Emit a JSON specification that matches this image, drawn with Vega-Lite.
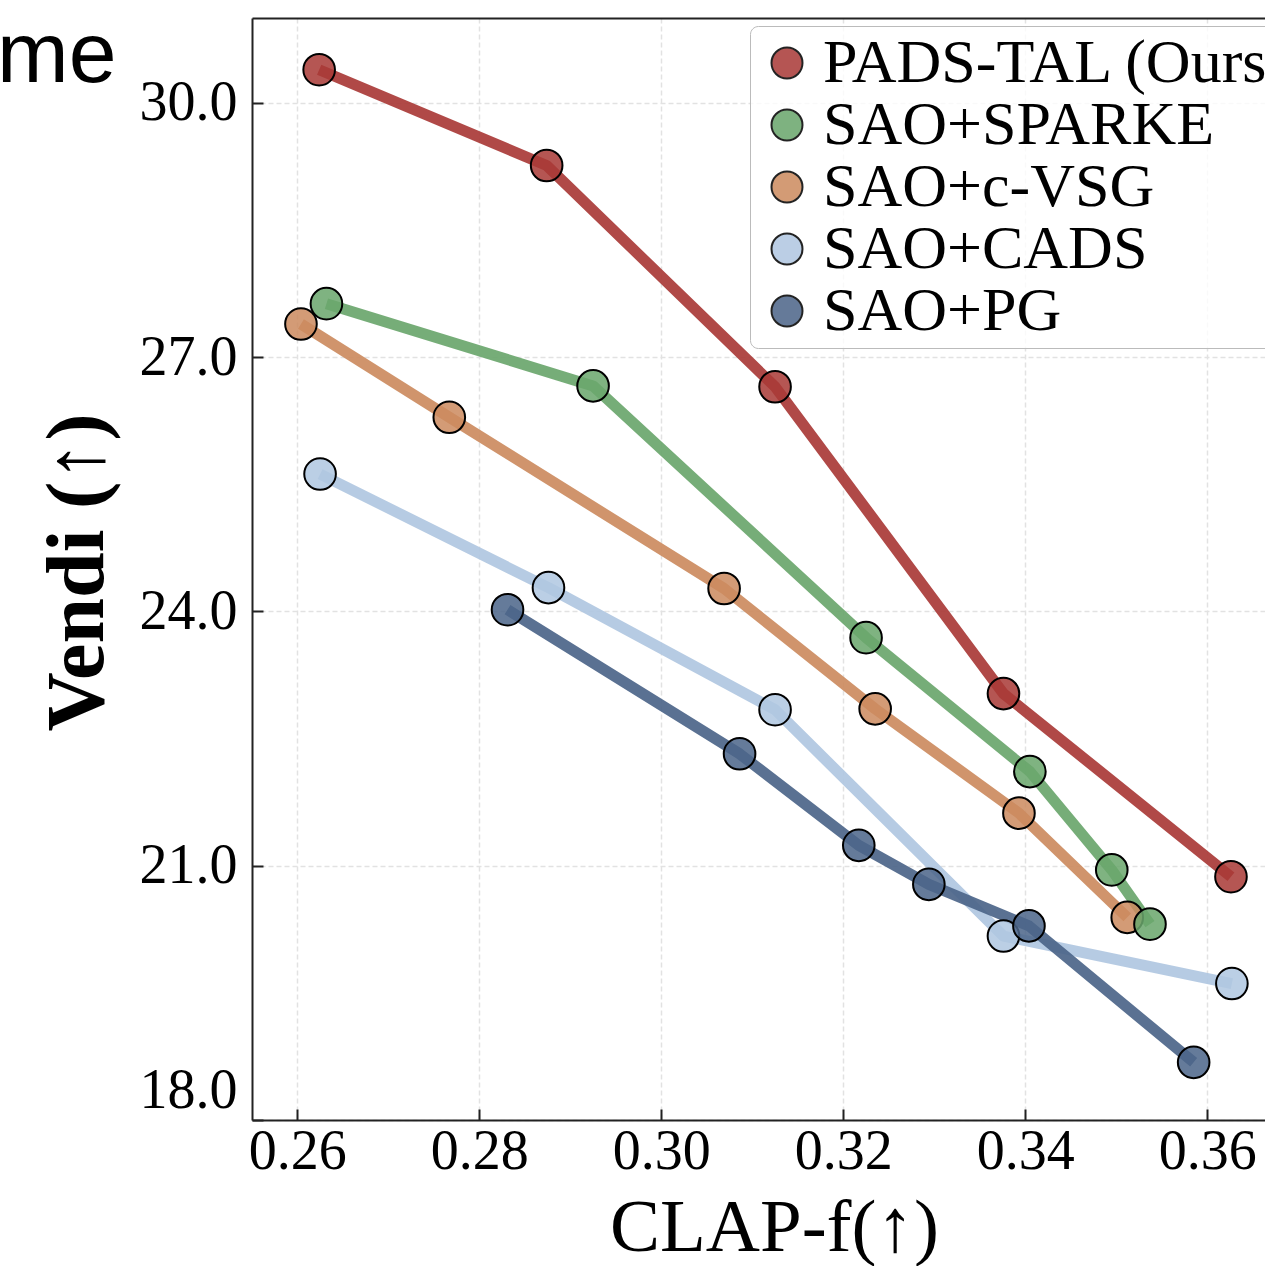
{
  "$schema": "https://vega.github.io/schema/vega-lite/v6.json",
  "autosize": {"type": "none"},
  "padding": {"left": 252, "top": 18, "right": 0, "bottom": 146},
  "width": 1013,
  "height": 1102,
  "background": "white",
  "title": {
    "text": "me",
    "font": "Liberation Sans",
    "fontSize": 86,
    "fontWeight": "normal",
    "color": "black",
    "anchor": "start",
    "frame": "group",
    "orient": "top",
    "baseline": "alphabetic",
    "offset": 0,
    "dx": -255,
    "dy": 150
  },
  "config": {
    "view": {"stroke": null},
    "axis": {
      "labelFont": "Liberation Serif",
      "labelFontSize": 56,
      "labelColor": "black",
      "titleFont": "Liberation Serif",
      "titleColor": "black",
      "domainColor": "#222222",
      "domainWidth": 2,
      "tickColor": "#222222",
      "tickWidth": 2,
      "tickSize": -11,
      "gridColor": "#e2e2e2",
      "gridDash": [5, 3],
      "gridWidth": 1.5
    }
  },
  "datasets": {
    "runs": [
      {"method": "SAO+CADS", "clap": 0.2625, "vendi": 25.62},
      {"method": "SAO+CADS", "clap": 0.2876, "vendi": 24.28},
      {"method": "SAO+CADS", "clap": 0.3125, "vendi": 22.84},
      {"method": "SAO+CADS", "clap": 0.3376, "vendi": 20.17},
      {"method": "SAO+CADS", "clap": 0.3627, "vendi": 19.61},
      {"method": "SAO+PG", "clap": 0.2831, "vendi": 24.02},
      {"method": "SAO+PG", "clap": 0.3086, "vendi": 22.32},
      {"method": "SAO+PG", "clap": 0.3217, "vendi": 21.24},
      {"method": "SAO+PG", "clap": 0.3294, "vendi": 20.78},
      {"method": "SAO+PG", "clap": 0.3404, "vendi": 20.29},
      {"method": "SAO+PG", "clap": 0.3585, "vendi": 18.68},
      {"method": "PADS-TAL (Ours)", "clap": 0.2624, "vendi": 30.39},
      {"method": "PADS-TAL (Ours)", "clap": 0.2874, "vendi": 29.26},
      {"method": "PADS-TAL (Ours)", "clap": 0.3125, "vendi": 26.65},
      {"method": "PADS-TAL (Ours)", "clap": 0.3376, "vendi": 23.03},
      {"method": "PADS-TAL (Ours)", "clap": 0.3626, "vendi": 20.87},
      {"method": "SAO+SPARKE", "clap": 0.2632, "vendi": 27.63},
      {"method": "SAO+SPARKE", "clap": 0.2925, "vendi": 26.66},
      {"method": "SAO+SPARKE", "clap": 0.3225, "vendi": 23.69},
      {"method": "SAO+SPARKE", "clap": 0.3405, "vendi": 22.11},
      {"method": "SAO+SPARKE", "clap": 0.3495, "vendi": 20.95},
      {"method": "SAO+c-VSG", "clap": 0.2604, "vendi": 27.39},
      {"method": "SAO+c-VSG", "clap": 0.2767, "vendi": 26.29},
      {"method": "SAO+c-VSG", "clap": 0.3069, "vendi": 24.27},
      {"method": "SAO+c-VSG", "clap": 0.3235, "vendi": 22.85},
      {"method": "SAO+c-VSG", "clap": 0.3393, "vendi": 21.62},
      {"method": "SAO+c-VSG", "clap": 0.3512, "vendi": 20.39},
      {"method": "SAO+SPARKE", "clap": 0.3537, "vendi": 20.31}
    ]
  },
  "data": {"name": "runs"},
  "layer": [
    {
      "mark": {"type": "line", "strokeWidth": 11, "opacity": 0.92, "strokeCap": "butt", "strokeJoin": "round"},
      "encoding": {
        "x": {
          "field": "clap",
          "type": "quantitative",
          "scale": {"domain": [0.25502, 0.36634], "nice": false, "zero": false},
          "axis": {
            "orient": "bottom",
            "values": [0.26, 0.28, 0.30, 0.32, 0.34, 0.36],
            "format": ".2f",
            "labelPadding": 15,
            "title": "CLAP-f(↑)",
            "titleFontSize": 75,
            "titleFontWeight": "normal",
            "titleBaseline": "alphabetic",
            "titleAnchor": "start",
            "titleAlign": "center",
            "titleX": 522,
            "titleY": 130
          }
        },
        "y": {
          "field": "vendi",
          "type": "quantitative",
          "scale": {"domain": [18, 31], "nice": false, "zero": false},
          "axis": {
            "values": [18, 21, 24, 27, 30],
            "format": ".1f",
            "labelPadding": 26,
            "labelOffset": {"condition": {"test": "datum.value == 18", "value": -30}, "value": 0},
            "title": "Vendi (↑)",
            "titleFontSize": 82,
            "titleFontWeight": "bold",
            "titleAngle": -90,
            "titleBaseline": "alphabetic",
            "titleAlign": "center",
            "titleAnchor": "start",
            "titleX": -150,
            "titleY": 554
          }
        },
        "stroke": {
          "field": "method",
          "type": "nominal",
          "scale": {
            "domain": ["SAO+PG", "SAO+CADS", "SAO+c-VSG", "SAO+SPARKE", "PADS-TAL (Ours)"],
            "range": ["#4c6589", "#b0c7e1", "#cc8b5f", "#6aa66c", "#a93a37"]
          },
          "legend": null
        },
        "detail": {"field": "method"}
      }
    },
    {
      "mark": {"type": "point", "shape": "circle", "filled": true, "size": 1000, "fillOpacity": 0.86, "stroke": "black", "strokeWidth": 2, "strokeOpacity": 1},
      "encoding": {
        "x": {
          "field": "clap",
          "type": "quantitative",
          "scale": {"domain": [0.25502, 0.36634], "nice": false, "zero": false},
          "axis": {"orient": "top", "labels": false, "ticks": false, "grid": false, "title": null, "domain": true}
        },
        "y": {"field": "vendi", "type": "quantitative"},
        "fill": {
          "field": "method",
          "type": "nominal",
          "scale": {
            "domain": ["PADS-TAL (Ours)", "SAO+SPARKE", "SAO+c-VSG", "SAO+CADS", "SAO+PG"],
            "range": ["#a93a37", "#6aa66c", "#cc8b5f", "#b0c7e1", "#4c6589"]
          },
          "legend": {
            "title": null,
            "orient": "none",
            "legendX": 498,
            "legendY": 8,
            "padding": 6,
            "symbolOffset": 0,
            "symbolType": "circle",
            "symbolSize": 960,
            "symbolStrokeColor": "black",
            "symbolStrokeWidth": 2,
            "symbolOpacity": 0.86,
            "labelFont": "Liberation Serif",
            "labelFontSize": 62,
            "labelColor": "black",
            "labelOffset": 5,
            "labelLimit": 0,
            "rowPadding": 0,
            "fillColor": "rgba(255,255,255,0.8)",
            "strokeColor": "#bbbbbb",
            "cornerRadius": 8
          }
        }
      }
    }
  ],
  "resolve": {"axis": {"x": "independent"}}
}
